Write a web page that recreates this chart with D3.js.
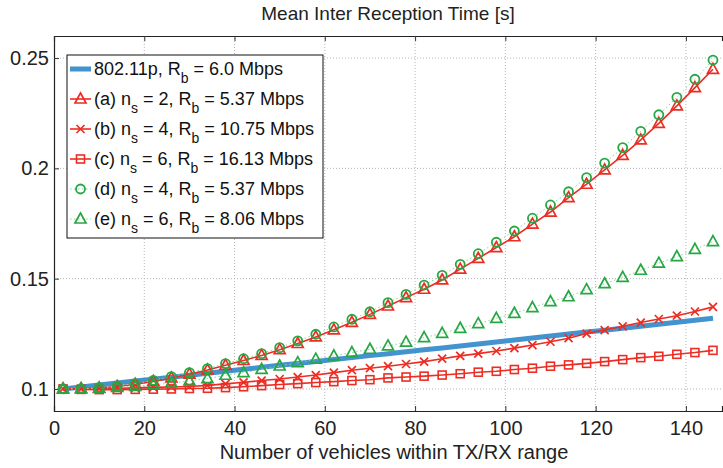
<!DOCTYPE html>
<html>
<head>
<meta charset="utf-8">
<script src="https://cdn.jsdelivr.net/npm/d3@7"></script>
<style>
body { margin: 0; background: #fff; }
svg { font-family: "Liberation Sans", Arial, Helvetica, sans-serif; }
</style>
</head>
<body>
<div id="staticBody"></div>
<script>
// vehicles within range
var xVals = [2, 6, 10, 14, 18, 22, 26, 30, 34, 38, 42, 46, 50, 54, 58, 62, 66, 70, 74,
             78, 82, 86, 90, 94, 98, 102, 106, 110, 114, 118, 122, 126, 130, 134, 138, 142, 146];

var p80211 = [0.1000, 0.1009, 0.1018, 0.1027, 0.1036, 0.1044, 0.1053, 0.1062, 0.1071, 0.1080,
              0.1089, 0.1098, 0.1107, 0.1115, 0.1124, 0.1133, 0.1142, 0.1151, 0.1160, 0.1169,
              0.1178, 0.1186, 0.1195, 0.1204, 0.1213, 0.1222, 0.1231, 0.1240, 0.1249, 0.1258,
              0.1266, 0.1275, 0.1284, 0.1293, 0.1302, 0.1311, 0.1320];
var serA = [0.1000, 0.1001, 0.1004, 0.1011, 0.1021, 0.1034, 0.1050, 0.1067, 0.1086, 0.1107,
            0.1129, 0.1152, 0.1178, 0.1206, 0.1236, 0.1268, 0.1302, 0.1338, 0.1376, 0.1414,
            0.1452, 0.1494, 0.1543, 0.1592, 0.1641, 0.1690, 0.1747, 0.1802, 0.1867, 0.1928,
            0.1993, 0.2059, 0.2129, 0.2204, 0.2283, 0.2366, 0.2449];
var serB = [0.1000, 0.1000, 0.1001, 0.1003, 0.1005, 0.1007, 0.1009, 0.1011, 0.1016, 0.1023,
            0.1030, 0.1038, 0.1045, 0.1054, 0.1063, 0.1074, 0.1085, 0.1094, 0.1103, 0.1113,
            0.1124, 0.1137, 0.1150, 0.1160, 0.1172, 0.1185, 0.1199, 0.1214, 0.1230, 0.1251,
            0.1267, 0.1284, 0.1301, 0.1317, 0.1332, 0.1351, 0.1372];
var serC = [0.1000, 0.0998, 0.0997, 0.0997, 0.0998, 0.0999, 0.1000, 0.1002, 0.1003, 0.1006,
            0.1010, 0.1015, 0.1020, 0.1024, 0.1029, 0.1033, 0.1038, 0.1042, 0.1050, 0.1054,
            0.1058, 0.1063, 0.1069, 0.1076, 0.1080, 0.1088, 0.1094, 0.1103, 0.1109, 0.1116,
            0.1124, 0.1133, 0.1142, 0.1148, 0.1157, 0.1165, 0.1175];
var serD = [0.1000, 0.1001, 0.1006, 0.1014, 0.1024, 0.1039, 0.1056, 0.1074, 0.1092, 0.1115,
            0.1137, 0.1160, 0.1187, 0.1218, 0.1248, 0.1281, 0.1316, 0.1350, 0.1391, 0.1429,
            0.1471, 0.1515, 0.1565, 0.1613, 0.1665, 0.1716, 0.1774, 0.1834, 0.1894, 0.1958,
            0.2024, 0.2094, 0.2168, 0.2243, 0.2322, 0.2404, 0.2491];
var serE = [0.1000, 0.1001, 0.1003, 0.1007, 0.1012, 0.1019, 0.1027, 0.1036, 0.1047, 0.1062,
            0.1074, 0.1089, 0.1104, 0.1119, 0.1135, 0.1150, 0.1165, 0.1180, 0.1195, 0.1212,
            0.1233, 0.1252, 0.1275, 0.1296, 0.1320, 0.1343, 0.1369, 0.1396, 0.1418, 0.1450,
            0.1477, 0.1506, 0.1538, 0.1570, 0.1600, 0.1633, 0.1668];

var xTicks = [0, 20, 40, 60, 80, 100, 120, 140];
var yTicks = [0.1, 0.15, 0.2, 0.25];

// legend label pieces, "sub" marks a subscript
var legendParts = [
    [["802.11p, R", ""], ["b", "sub"], [" = 6.0 Mbps", ""]],
    [["(a) n", ""], ["s", "sub"], [" = 2, R", ""], ["b", "sub"], [" = 5.37 Mbps", ""]],
    [["(b) n", ""], ["s", "sub"], [" = 4, R", ""], ["b", "sub"], [" = 10.75 Mbps", ""]],
    [["(c) n", ""], ["s", "sub"], [" = 6, R", ""], ["b", "sub"], [" = 16.13 Mbps", ""]],
    [["(d) n", ""], ["s", "sub"], [" = 4, R", ""], ["b", "sub"], [" = 5.37 Mbps", ""]],
    [["(e) n", ""], ["s", "sub"], [" = 6, R", ""], ["b", "sub"], [" = 8.06 Mbps", ""]]
];

var red = "#ec2d24", green = "#26a744", blue = "#4393cf";

var series = [
    { vals: p80211, color: blue, width: 5, dash: null, marker: null },
    { vals: serA, color: red, width: 1.6, dash: null, marker: "tri" },
    { vals: serB, color: red, width: 1.6, dash: null, marker: "x" },
    { vals: serC, color: red, width: 1.6, dash: null, marker: "sq" },
    { vals: serD, color: "#8fd49c", width: 1, dash: "1.5,2.5", marker: "circ", mcolor: green },
    { vals: serE, color: "#8fd49c", width: 1, dash: "1.5,2.5", marker: "tri", mcolor: green }
];

var W = 723, H = 468;
var margin = { top: 36, right: 1, bottom: 57, left: 54 };

var svg = d3.select('#staticBody').append('svg')
    .attr('width', W).attr('height', H);

var x = d3.scaleLinear().domain([0, 148]).range([margin.left, W - margin.right]);
var y = d3.scaleLinear().domain([0.09, 0.26]).range([H - margin.bottom, margin.top]);

// grid
svg.selectAll(".gx").data(xTicks.filter(function(d){return d > 0;})).enter().append("line")
    .attr("x1", function(d){return x(d);}).attr("x2", function(d){return x(d);})
    .attr("y1", y(0.09)).attr("y2", y(0.26))
    .attr("stroke", "#b5b5b5").attr("stroke-width", 1).attr("stroke-dasharray", "1,2");
svg.selectAll(".gy").data(yTicks).enter().append("line")
    .attr("x1", x(0)).attr("x2", x(148))
    .attr("y1", function(d){return y(d);}).attr("y2", function(d){return y(d);})
    .attr("stroke", "#b5b5b5").attr("stroke-width", 1).attr("stroke-dasharray", "1,2");

// axes (ticks inward)
var xAxis = d3.axisBottom(x).tickValues(xTicks).tickSize(-5).tickPadding(10)
    .tickFormat(d3.format("d"));
var yAxis = d3.axisLeft(y).tickValues(yTicks).tickSize(-5).tickPadding(5)
    .tickFormat(function(d){return String(+d.toFixed(2));});
var xTop = d3.axisTop(x).tickValues(xTicks).tickSize(-5).tickFormat("");

var gx = svg.append("g").attr("transform", "translate(0," + y(0.09) + ")").call(xAxis);
var gy = svg.append("g").attr("transform", "translate(" + x(0) + ",0)").call(yAxis);
var gt = svg.append("g").attr("transform", "translate(0," + y(0.26) + ")").call(xTop);
[gx, gy, gt].forEach(function(g){
    g.select(".domain").attr("stroke", "#222").attr("stroke-width", 1.2);
    g.selectAll(".tick line").attr("stroke", "#333");
    g.selectAll("text").attr("fill", "#222").style("font-size", "20px")
        .style("font-family", '"Liberation Sans", Arial, sans-serif');
});

// lines
var line = d3.line()
    .x(function(d, i){return x(xVals[i]);})
    .y(function(d){return y(d);});

series.forEach(function(s){
    var p = svg.append("path")
        .attr("d", line(s.vals))
        .attr("fill", "none")
        .attr("stroke", s.color)
        .attr("stroke-width", s.width);
    if (s.dash) p.attr("stroke-dasharray", s.dash);
});

function drawMarker(g, type, cx, cy, col) {
    if (type === "tri") {
        g.append("path")
            .attr("d", "M" + cx + "," + (cy - 6) + "L" + (cx + 5.5) + "," + (cy + 4) + "L" + (cx - 5.5) + "," + (cy + 4) + "Z")
            .attr("fill", "none").attr("stroke", col).attr("stroke-width", 1.7);
    } else if (type === "x") {
        g.append("path")
            .attr("d", "M" + (cx - 4) + "," + (cy - 4) + "L" + (cx + 4) + "," + (cy + 4) + "M" + (cx - 4) + "," + (cy + 4) + "L" + (cx + 4) + "," + (cy - 4))
            .attr("stroke", col).attr("stroke-width", 1.7);
    } else if (type === "sq") {
        g.append("rect").attr("x", cx - 4).attr("y", cy - 4).attr("width", 8).attr("height", 8)
            .attr("fill", "none").attr("stroke", col).attr("stroke-width", 1.6);
    } else if (type === "circ") {
        g.append("circle").attr("cx", cx).attr("cy", cy).attr("r", 4.5)
            .attr("fill", "none").attr("stroke", col).attr("stroke-width", 1.8);
    }
}

var mk = svg.append("g");
series.forEach(function(s){
    if (!s.marker) return;
    s.vals.forEach(function(v, i){
        drawMarker(mk, s.marker, x(xVals[i]), y(v), s.mcolor || s.color);
    });
});

// title & label
svg.append("text").attr("x", 388).attr("y", 20).attr("text-anchor", "middle")
    .style("font-size", "19px").attr("fill", "#222").text("Mean Inter Reception Time [s]");
svg.append("text").attr("x", 394).attr("y", 459).attr("text-anchor", "middle")
    .style("font-size", "20px").attr("fill", "#222").text("Number of vehicles within TX/RX range");

// legend
var lg = svg.append("g");
lg.append("rect").attr("x", 67).attr("y", 55).attr("width", 256).attr("height", 183)
    .attr("fill", "#fff").attr("stroke", "#111").attr("stroke-width", 1);

legendParts.forEach(function(parts, i){
    var s = series[i];
    var cy = 69 + i * 30;
    var ln = lg.append("line").attr("x1", 70).attr("x2", 91).attr("y1", cy).attr("y2", cy)
        .attr("stroke", s.color).attr("stroke-width", s.width);
    if (s.dash) ln.attr("stroke-dasharray", s.dash);
    if (s.marker) drawMarker(lg, s.marker, 80.5, cy, s.mcolor || s.color);

    var t = lg.append("text").attr("x", 94).attr("y", cy + 6)
        .style("font-size", "18px").attr("fill", "#111");
    parts.forEach(function(p){
        var ts = t.append("tspan").text(p[0]);
        if (p[1] === "sub") {
            ts.attr("dy", 8).style("font-size", "14px");
        } else {
            ts.attr("dy", function(){ return this.previousSibling ? -8 : 0; });
        }
    });
});
</script>
</body>
</html>
